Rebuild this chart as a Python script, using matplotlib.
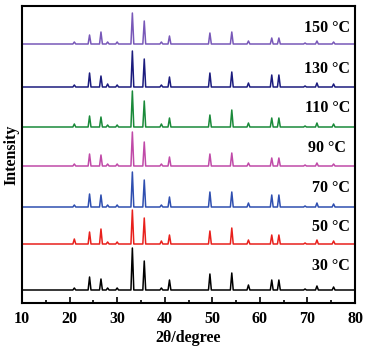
import matplotlib
matplotlib.use("Agg")
import matplotlib.pyplot as plt
from matplotlib.ticker import MultipleLocator

plt.rcParams['font.family'] = ['Liberation Serif', 'DejaVu Serif']
plt.rcParams['font.weight'] = 'bold'

labels = ["30 °C", "50 °C", "70 °C", "90 °C", "110 °C", "130 °C", "150 °C"]
colors = ["#000000", "#e8201c", "#2f4fb0", "#c04aa8", "#1a8a3a", "#1c1c7e", "#7858b8"]
offsets = [13, 59, 96, 137, 176, 216, 259]

peak_pos = [21.0, 24.2, 26.6, 28.0, 30.0, 33.2, 35.7, 39.3, 41.0, 49.5, 54.1, 57.6, 62.5, 64.0, 69.5, 72.0, 75.5]
heights = [
    [2, 13, 11, 2, 2, 42, 29, 2, 10, 16, 17, 5, 10, 10, 1, 4, 3],   # 30
    [5, 12, 15, 2, 2, 34, 26, 3, 9, 13, 16, 4, 9, 9, 1, 4, 3],      # 50
    [2, 13, 12, 2, 2, 35, 27, 2, 10, 15, 15, 4, 12, 12, 1, 4, 3],   # 70
    [2, 12, 11, 2, 2, 34, 24, 2, 9, 12, 13, 3, 8, 8, 1, 3, 2],      # 90
    [3, 11, 10, 2, 2, 36, 26, 3, 9, 12, 17, 4, 9, 9, 1, 4, 3],      # 110
    [2, 14, 11, 3, 2, 36, 28, 2, 10, 14, 15, 4, 12, 12, 1, 4, 3],   # 130
    [2, 9, 12, 2, 2, 31, 23, 2, 8, 11, 12, 3, 6, 6, 1, 3, 2],       # 150
]
label_x = [79.0, 79.0, 79.0, 78.1, 79.0, 79.0, 79.0]
label_y = [37, 76, 115, 155, 195, 234, 275]

HW = 0.3

fig = plt.figure(figsize=(3.66, 3.49), dpi=100)
ax = fig.add_axes([22/366, 46/349, 333/366, 297/349])

for h, off, c, lab, lx, ly in zip(heights, offsets, colors, labels, label_x, label_y):
    xs = [10.0]
    ys = [off]
    for p, v in zip(peak_pos, h):
        xs += [p - HW, p, p + HW]
        ys += [off, off + v, off]
    xs.append(80.0)
    ys.append(off)
    ax.plot(xs, ys, color=c, lw=1.1)
    ax.text(lx, ly, lab, ha='right', va='center', fontsize=11.5, fontweight='bold')

ax.set_xlim(10, 80)
ax.set_ylim(0, 297)
ax.xaxis.set_major_locator(MultipleLocator(10))
ax.xaxis.set_minor_locator(MultipleLocator(5))
ax.tick_params(axis='x', which='both', direction='in', labelsize=11.5, width=1.2, pad=6)
ax.tick_params(axis='x', which='major', length=4)
ax.tick_params(axis='x', which='minor', length=2.5)
ax.set_yticks([])
for lab in ax.get_xticklabels():
    lab.set_fontweight('bold')
for s in ax.spines.values():
    s.set_linewidth(1.5)
ax.set_xlabel("2θ/degree", fontsize=11.5, fontweight='bold', labelpad=2)
ax.set_ylabel("Intensity", fontsize=11.5, fontweight='bold', labelpad=2)

fig.savefig("out.png", dpi=100)
